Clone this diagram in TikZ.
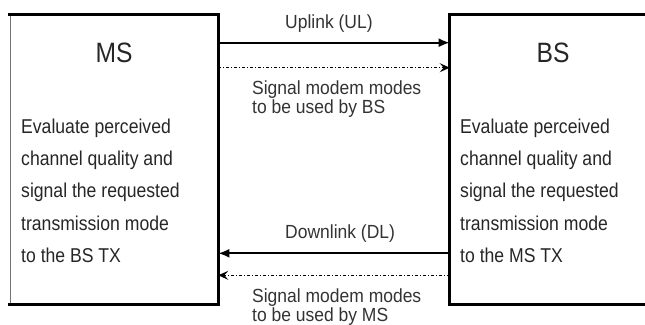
\documentclass[tikz,border=0pt]{standalone}
\usepackage{fontspec}
\newfontfamily\dfont[FakeStretch=0.88]{Liberation Sans}
\newfontfamily\lfont[FakeStretch=0.92]{Liberation Sans}
\usetikzlibrary{arrows.meta}
\tikzset{
  boxnode/.style={rectangle, draw=black!55, line width=0.6pt, inner sep=0pt},
  edge/.style={line width=2.8pt, line cap=rect},
  solidarrow/.style={line width=2pt, -{Latex[length=11pt,width=9pt]}},
  dotarrow/.style={line width=1.2pt, dash pattern=on 3pt off 2pt on 1pt off 2pt, -{Stealth[length=10pt,width=9pt,inset=4pt]}},
  title/.style={font=\dfont\fontsize{28}{30}\selectfont, inner sep=0pt, anchor=base, text=black!85},
  body/.style={font=\dfont\fontsize{20}{22}\selectfont, inner sep=0pt, anchor=base west, text=black!85},
  lab/.style={font=\lfont\fontsize{19}{21}\selectfont, inner sep=0pt, anchor=base west, text=black!80}
}
\begin{document}
\begin{tikzpicture}[x=1pt,y=-1pt]
\useasboundingbox (0,0) rectangle (645,324);
% boxes
\node[boxnode, minimum width=208pt, minimum height=289pt] (ms) at (114,159.5) {};
\node[boxnode, minimum width=214pt, minimum height=289pt] (bs) at (557,159.5) {};
\draw[edge] (ms.north west) -- (ms.north east) -- (ms.south east) -- (ms.south west);
\draw[edge] (bs.north east) -- (bs.north west) -- (bs.south west) -- (bs.south east);
% titles
\node[title] (mst) at (114,62) {MS};
\node[title] (bst) at (553,62) {BS};
% body text
\node[body] (m1) at (21,133) {Evaluate perceived};
\node[body] (m2) at (21,165.3) {channel quality and};
\node[body] (m3) at (21,197.6) {signal the requested};
\node[body] (m4) at (21,230) {transmission mode};
\node[body] (m5) at (21,262.3) {to the BS TX};
\node[body] (b1) at (460,133) {Evaluate perceived};
\node[body] (b2) at (460,165.3) {channel quality and};
\node[body] (b3) at (460,197.6) {signal the requested};
\node[body] (b4) at (460,230) {transmission mode};
\node[body] (b5) at (460,262.3) {to the MS TX};
% connector end points
\coordinate (ul1) at ([yshift=-28pt]ms.north east);
\coordinate (ul2) at ([yshift=-28pt]bs.north west);
\coordinate (us1) at ([yshift=-53pt]ms.north east);
\coordinate (us2) at ([yshift=-53pt]bs.north west);
\coordinate (dl1) at ([yshift=51pt]bs.south west);
\coordinate (dl2) at ([yshift=51pt]ms.south east);
\coordinate (ds1) at ([yshift=29pt]bs.south west);
\coordinate (ds2) at ([yshift=29pt]ms.south east);
\draw[solidarrow] (ul1) -- (ul2);
\draw[dotarrow] (us1) -- (us2);
\draw[solidarrow] (dl1) -- (dl2);
\draw[dotarrow] (ds1) -- (ds2);
% labels
\node[lab] (ull) at (285,28) {Uplink (UL)};
\node[lab] (usl1) at (252,94) {Signal modem modes};
\node[lab] (usl2) at (252,113) {to be used by BS};
\node[lab] (dll) at (285,238) {Downlink (DL)};
\node[lab] (dsl1) at (252,302) {Signal modem modes};
\node[lab] (dsl2) at (252,321) {to be used by MS};
\end{tikzpicture}
\end{document}
